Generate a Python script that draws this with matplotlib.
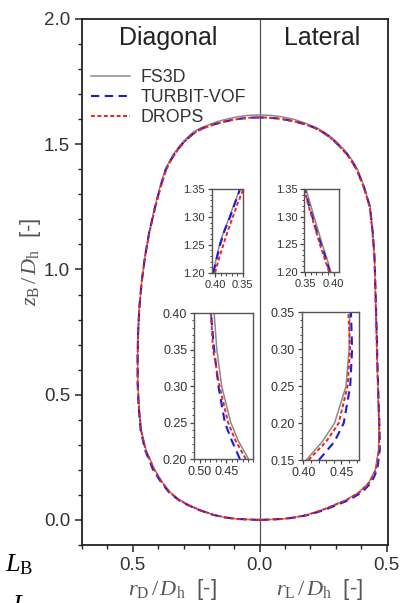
import matplotlib
matplotlib.use("Agg")
import matplotlib.pyplot as plt
import numpy as np
from matplotlib.ticker import MultipleLocator, FixedLocator, FuncFormatter

plt.rcParams["font.family"] = ["Liberation Sans", "DejaVu Sans"]
plt.rcParams["mathtext.fontset"] = "custom"
plt.rcParams["mathtext.rm"] = "Liberation Serif"
plt.rcParams["mathtext.it"] = "Liberation Serif:italic"

# bubble contour, heights z/Dh shared by every radius list below
z_main = [0.000, 0.004, 0.010, 0.020, 0.040, 0.060, 0.080, 0.110, 0.150, 0.200,
          0.280, 0.360, 0.450, 0.550, 0.650, 0.750, 0.850, 0.950, 1.050, 1.150,
          1.250, 1.330, 1.400, 1.430, 1.460, 1.485, 1.510, 1.530, 1.550, 1.565,
          1.580, 1.590]

# diagonal direction, r_D/Dh
diag_fs3d = [0.000, 0.090, 0.135, 0.180, 0.236, 0.280, 0.315, 0.352, 0.383, 0.413,
             0.448, 0.467, 0.475, 0.480, 0.481, 0.479, 0.474, 0.465, 0.452, 0.435,
             0.413, 0.393, 0.372, 0.357, 0.340, 0.322, 0.302, 0.282, 0.260, 0.232,
             0.195, 0.167]
diag_turbit = [0.000, 0.091, 0.137, 0.183, 0.240, 0.284, 0.320, 0.357, 0.388, 0.420,
               0.452, 0.469, 0.477, 0.481, 0.481, 0.479, 0.474, 0.465, 0.452, 0.435,
               0.412, 0.391, 0.369, 0.354, 0.336, 0.318, 0.297, 0.276, 0.252, 0.222,
               0.178, 0.141]
diag_drops = [0.000, 0.090, 0.136, 0.181, 0.238, 0.282, 0.318, 0.355, 0.385, 0.416,
              0.450, 0.468, 0.476, 0.481, 0.481, 0.479, 0.474, 0.465, 0.452, 0.434,
              0.411, 0.390, 0.368, 0.353, 0.335, 0.317, 0.296, 0.275, 0.250, 0.220,
              0.176, 0.140]

# lateral direction, r_L/Dh
lat_fs3d = [0.000, 0.090, 0.135, 0.185, 0.245, 0.293, 0.340, 0.390, 0.430, 0.455,
            0.468, 0.470, 0.468, 0.465, 0.462, 0.460, 0.457, 0.455, 0.452, 0.445,
            0.435, 0.412, 0.385, 0.368, 0.348, 0.326, 0.302, 0.280, 0.252, 0.225,
            0.190, 0.163]
lat_turbit = [0.000, 0.092, 0.140, 0.192, 0.255, 0.304, 0.352, 0.402, 0.440, 0.463,
              0.473, 0.472, 0.469, 0.466, 0.463, 0.461, 0.458, 0.455, 0.452, 0.445,
              0.434, 0.410, 0.382, 0.364, 0.344, 0.321, 0.297, 0.274, 0.245, 0.218,
              0.178, 0.141]
lat_drops = [0.000, 0.090, 0.137, 0.187, 0.248, 0.296, 0.343, 0.393, 0.433, 0.458,
             0.470, 0.471, 0.468, 0.465, 0.462, 0.460, 0.457, 0.455, 0.452, 0.444,
             0.433, 0.409, 0.381, 0.363, 0.343, 0.320, 0.296, 0.273, 0.244, 0.217,
             0.176, 0.140]

# bubble nose cap up to the apex on the axis (same on both sides)
cap_z = {"FS3D": [1.600, 1.610, 1.615, 1.617],
         "TURBIT-VOF": [1.597, 1.603, 1.606, 1.607],
         "DROPS": [1.597, 1.603, 1.606, 1.607]}
cap_r = {"FS3D": [0.132, 0.085, 0.045, 0.000],
         "TURBIT-VOF": [0.108, 0.069, 0.034, 0.000],
         "DROPS": [0.108, 0.069, 0.034, 0.000]}

# close-ups near the nose
z_nose = [1.20, 1.225, 1.25, 1.275, 1.30, 1.325, 1.35]
nose_diag = {
    "FS3D": [0.403, 0.398, 0.392, 0.384, 0.374, 0.365, 0.355],
    "TURBIT-VOF": [0.403, 0.397, 0.391, 0.383, 0.373, 0.364, 0.355],
    "DROPS": [0.400, 0.393, 0.385, 0.377, 0.368, 0.359, 0.349],
}
nose_lat = {
    "FS3D": [0.395, 0.388, 0.380, 0.373, 0.366, 0.359, 0.352],
    "TURBIT-VOF": [0.393, 0.386, 0.378, 0.370, 0.363, 0.356, 0.350],
    "DROPS": [0.392, 0.384, 0.376, 0.369, 0.362, 0.355, 0.349],
}

# close-ups near the tail
z_tail_diag = [0.20, 0.225, 0.25, 0.30, 0.35, 0.40]
tail_diag = {
    "FS3D": [0.409, 0.428, 0.442, 0.459, 0.468, 0.473],
    "TURBIT-VOF": [0.425, 0.440, 0.453, 0.465, 0.473, 0.479],
    "DROPS": [0.414, 0.433, 0.447, 0.463, 0.475, 0.479],
}
z_tail_lat = [0.15, 0.175, 0.20, 0.25, 0.30, 0.35]
tail_lat = {
    "FS3D": [0.404, 0.425, 0.441, 0.456, 0.460, 0.461],
    "TURBIT-VOF": [0.4205, 0.441, 0.453, 0.4615, 0.464, 0.4625],
    "DROPS": [0.407, 0.430, 0.4465, 0.458, 0.4615, 0.459],
}

methods = ["FS3D", "TURBIT-VOF", "DROPS"]
styles = {
    "FS3D": dict(color="#8a8a8a", lw=1.1, ls="-"),
    "TURBIT-VOF": dict(color="#1a1ae6", lw=1.5, ls=(0, (4.0, 2.6))),
    "DROPS": dict(color="#e8231f", lw=1.4, ls=(0, (2.0, 1.3))),
}
main_diag = {"FS3D": diag_fs3d, "TURBIT-VOF": diag_turbit, "DROPS": diag_drops}
main_lat = {"FS3D": lat_fs3d, "TURBIT-VOF": lat_turbit, "DROPS": lat_drops}

ink = "#333333"
fig = plt.figure(figsize=(4.02, 6.03), dpi=100)
ax = fig.add_axes([0.204, 0.0962, 0.761, 0.8723])

for m in methods:
    zz = np.array(z_main + cap_z[m])
    rd = np.array(main_diag[m] + cap_r[m])
    rl = np.array(main_lat[m] + cap_r[m])
    # diagonal half is mirrored to the left of the axis
    ax.plot(-rd, zz, label=m, **styles[m])
    ax.plot(rl, zz, **styles[m])

ax.axvline(0, color="#555555", lw=0.9, zorder=1)
ax.set_xlim(-0.70, 0.505)
ax.set_ylim(-0.10, 2.0)
ax.xaxis.set_major_locator(MultipleLocator(0.5))
ax.xaxis.set_minor_locator(MultipleLocator(0.1))
ax.yaxis.set_major_locator(MultipleLocator(0.5))
ax.yaxis.set_minor_locator(MultipleLocator(0.1))
ax.xaxis.set_major_formatter(FuncFormatter(lambda v, p: f"{abs(v):.1f}"))
ax.yaxis.set_major_formatter(FuncFormatter(lambda v, p: f"{v:.1f}"))
ax.tick_params(which="both", direction="out", colors="#222222", labelcolor=ink,
               labelsize=13.5, top=False, right=False)
ax.tick_params(which="major", length=5, width=1.1)
ax.tick_params(which="minor", length=3, width=1.0)
for s in ax.spines.values():
    s.set_color("#222222")
    s.set_linewidth(1.3)

ax.text(0.281, 0.963, "Diagonal", transform=ax.transAxes,
        ha="center", va="center", fontsize=18, color="#222222")
ax.text(0.784, 0.963, "Lateral", transform=ax.transAxes,
        ha="center", va="center", fontsize=18, color="#222222")

ax.legend(loc="upper left", bbox_to_anchor=(0.028, 0.905), frameon=False, fontsize=12.8,
          handlelength=2.2, handletextpad=0.6, labelspacing=0.18, borderpad=0,
          borderaxespad=0, labelcolor=ink)

fig.text(0.075, 0.565, r"$z_\mathrm{B}\,/\,D_\mathrm{h}$  [-]", rotation=90,
         ha="center", va="center", fontsize=16, color="#555555")
fig.text(172 / 402, 1 - 590 / 603, r"$r_\mathrm{D}\,/\,D_\mathrm{h}$  [-]",
         ha="center", va="center", fontsize=16, color="#555555")
fig.text(320 / 402, 1 - 590 / 603, r"$r_\mathrm{L}\,/\,D_\mathrm{h}$  [-]",
         ha="center", va="center", fontsize=16, color="#555555")
fig.text(0.012, 1 - 565 / 603, r"$L_\mathrm{B}$", ha="left", va="center",
         fontsize=19, color="black")
fig.text(0.030, 1 - 593 / 603, r"$\mathbf{\mathit{L}}$", ha="left", va="top",
         fontsize=19, color="black")


def close_up(rect, z, data, xlim, ylim, xticks, yticks, size):
    ins = fig.add_axes(rect)
    for m in methods:
        ins.plot(data[m], z, **styles[m])
    ins.set_xlim(*xlim)
    ins.set_ylim(*ylim)
    ins.xaxis.set_major_locator(FixedLocator(xticks))
    ins.xaxis.set_minor_locator(MultipleLocator(0.01))
    ins.yaxis.set_major_locator(FixedLocator(yticks))
    ins.yaxis.set_minor_locator(MultipleLocator(0.01))
    ins.xaxis.set_major_formatter(FuncFormatter(lambda v, p: f"{v:.2f}"))
    ins.yaxis.set_major_formatter(FuncFormatter(lambda v, p: f"{v:.2f}"))
    ins.tick_params(which="both", direction="out", colors="#444444", labelcolor=ink,
                    labelsize=size, pad=2)
    ins.tick_params(which="major", length=3, width=0.9)
    ins.tick_params(which="minor", length=1.8, width=0.7)
    for s in ins.spines.values():
        s.set_color("#555555")
        s.set_linewidth(1.0)
    return ins


close_up([0.5266, 0.5478, 0.0786, 0.1383], z_nose, nose_diag, (0.406, 0.349), (1.20, 1.35),
         [0.40, 0.35], [1.20, 1.25, 1.30, 1.35], 8)
close_up([0.757, 0.5489, 0.0863, 0.1372], z_nose, nose_lat, (0.349, 0.409), (1.20, 1.35),
         [0.35, 0.40], [1.20, 1.25, 1.30, 1.35], 8)
close_up([0.4833, 0.2388, 0.1468, 0.2421], z_tail_diag, tail_diag, (0.51, 0.40), (0.20, 0.40),
         [0.50, 0.45], [0.20, 0.25, 0.30, 0.35, 0.40], 9)
close_up([0.7505, 0.2371, 0.1425, 0.2449], z_tail_lat, tail_lat, (0.398, 0.473), (0.15, 0.35),
         [0.40, 0.45], [0.15, 0.20, 0.25, 0.30, 0.35], 9)

fig.savefig("out.png", dpi=100)
